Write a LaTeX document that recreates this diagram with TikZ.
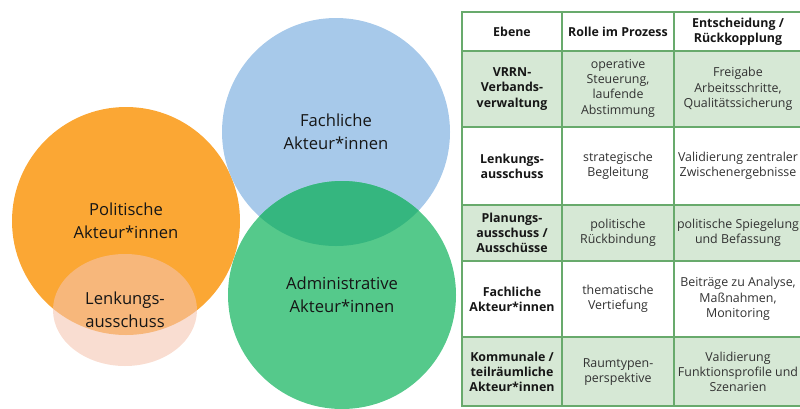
\documentclass[tikz,border=0pt]{standalone}
\usepackage{fontspec}
\setmainfont{Open Sans}
\usepackage{tikz}
\usetikzlibrary{shapes.geometric}

\definecolor{polorange}{RGB}{251,167,52}
\definecolor{fachblue}{RGB}{167,201,234}
\definecolor{admgreen}{RGB}{85,201,139}
\definecolor{ovlgreen}{RGB}{53,182,127}
\definecolor{lenkpeach}{RGB}{245,196,176}
\definecolor{rowgreen}{RGB}{214,232,213}
\definecolor{tabgreen}{RGB}{104,170,108}
\definecolor{txtdark}{RGB}{22,22,22}
\definecolor{txtgrey}{RGB}{50,50,50}

\begin{document}
\begin{tikzpicture}[x=1pt, y=-1pt,
        circ/.style={circle, minimum size=228pt, inner sep=0pt, align=center,
                     font=\fontsize{16.6}{23}\selectfont, text=txtdark},
        hd/.style={align=center, font=\fontsize{12.4}{15.3}\selectfont\bfseries, text=txtdark},
        tx/.style={align=center, font=\fontsize{12.4}{15.3}\selectfont, text=txtgrey},
        grid/.style={draw=tabgreen, line width=1.2pt}
      ]
      \useasboundingbox (0,0) rectangle (800,408);
      \clip (0,0) rectangle (800,408);

      \node[circ, fill=polorange] (pol) at (126,221) {Politische\\Akteur*innen};
      \node[circ, fill=fachblue] (fach) at (336,132) {Fachliche\\Akteur*innen};
      \node[circ, fill=admgreen] (adm) at (342,295) {Administrative\\Akteur*innen};
      \begin{scope}
        \clip (fach.center) circle[radius=114pt];
        \fill[ovlgreen] (adm.center) circle[radius=114pt];
      \end{scope}
      \node[ellipse, minimum width=144pt, minimum height=112pt, fill=lenkpeach,
            fill opacity=0.58, text opacity=1, align=center,
            font=\fontsize{16.6}{23}\selectfont, text=txtdark] (lenk) at (125,310) {Lenkungs-\\ausschuss};

      \fill[rowgreen] (462,51) rectangle (808,127);
      \fill[rowgreen] (462,205) rectangle (808,261);
      \fill[rowgreen] (462,337) rectangle (808,406);
      \draw[grid] (462,12) rectangle (808,406);
      \draw[grid] (462,51) -- (808,51);
      \draw[grid] (462,127) -- (808,127);
      \draw[grid] (462,205) -- (808,205);
      \draw[grid] (462,261) -- (808,261);
      \draw[grid] (462,337) -- (808,337);
      \draw[grid] (562,12) -- (562,406);
      \draw[grid] (674,12) -- (674,406);

      \node[hd] (hEb) at (512,31.5) {Ebene};
      \node[hd] (hRo) at (618,31.5) {Rolle im Prozess};
      \node[hd] (hEn) at (738,31.5) {Entscheidung /\\Rückkopplung};

      \node[hd] (vrEb) at (512,89) {VRRN-\\Verbands-\\verwaltung};
      \node[tx] (vrRo) at (618,88) {operative\\Steuerung,\\laufende\\Abstimmung};
      \node[tx] (vrEn) at (738,89) {Freigabe\\Arbeitsschritte,\\Qualitätssicherung};

      \node[hd] (lkEb) at (512,166) {Lenkungs-\\ausschuss};
      \node[tx] (lkRo) at (618,166) {strategische\\Begleitung};
      \node[tx] (lkEn) at (738,166) {Validierung zentraler\\Zwischenergebnisse};

      \node[hd] (plEb) at (512,233) {Planungs-\\ausschuss /\\Ausschüsse};
      \node[tx] (plRo) at (618,233) {politische\\Rückbindung};
      \node[tx] (plEn) at (738,233) {politische Spiegelung\\und Befassung};

      \node[hd] (faEb) at (512,299) {Fachliche\\Akteur*innen};
      \node[tx] (faRo) at (618,299) {thematische\\Vertiefung};
      \node[tx] (faEn) at (738,299) {Beiträge zu Analyse,\\Maßnahmen,\\Monitoring};

      \node[hd] (koEb) at (512,372) {Kommunale /\\teilräumliche\\Akteur*innen};
      \node[tx] (koRo) at (618,372) {Raumtypen-\\perspektive};
      \node[tx] (koEn) at (738,372) {Validierung\\Funktionsprofile und\\Szenarien};
    \end{tikzpicture}
\end{document}
